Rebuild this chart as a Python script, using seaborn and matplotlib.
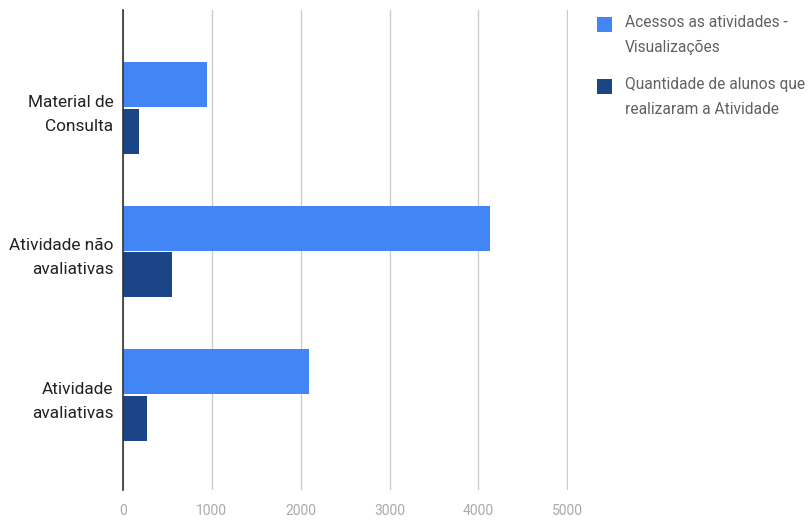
import matplotlib
matplotlib.use("Agg")
import matplotlib.pyplot as plt
import seaborn as sns
import pandas as pd
from matplotlib.patches import Rectangle

categories = ["Material de\nConsulta", "Atividade não\navaliativas", "Atividade\navaliativas"]
series_names = ["Acessos as atividades -\nVisualizações", "Quantidade de alunos que\nrealizaram a Atividade"]
acessos = [945, 4135, 2090]
alunos = [183, 555, 266]
xticks = [0, 1000, 2000, 3000, 4000, 5000]
colors = ["#4285F4", "#1C4587"]

df = pd.DataFrame({
    "cat": categories * 2,
    "serie": [series_names[0]] * 3 + [series_names[1]] * 3,
    "valor": acessos + alunos,
})

sns.set_style("white")
plt.rcParams["font.family"] = ["Roboto", "DejaVu Sans"]

fig = plt.figure(figsize=(8.1, 5.2), dpi=100)
ax = fig.add_axes([123/810, 1-490/520, (568-123)/810, 480/520])

sns.barplot(data=df, y="cat", x="valor", hue="serie", orient="h",
            palette=colors, width=0.65, gap=0.03, ax=ax, legend=False,
            saturation=1, linewidth=0, zorder=3)

ax.set_xlim(0, 5008)
ax.set_ylim(2.662, -0.683)
ax.set_xticks(xticks)
ax.set_xticklabels([str(t) for t in xticks], color="#aaaaaa", fontsize=10)
ax.tick_params(axis="x", length=0, pad=10)
ax.tick_params(axis="y", length=0, pad=7, labelsize=12.4, labelcolor="#222222")
for lab in ax.get_yticklabels():
    lab.set_horizontalalignment("right")
    lab.set_multialignment("right")
    lab.set_linespacing(1.75)
    x, y = lab.get_position()
ax.grid(axis="x", color="#cccccc", linewidth=1, zorder=0)
ax.set_axisbelow(True)
for s in ["top", "right", "bottom"]:
    ax.spines[s].set_visible(False)
ax.spines["left"].set_color("#333333")
ax.spines["left"].set_linewidth(1.2)
ax.spines["left"].set_zorder(4)
ax.set_xlabel("")
ax.set_ylabel("")

# legend drawn manually
legend_tops = [17, 79]
for name, c, top in zip(series_names, colors, legend_tops):
    fig.patches.append(Rectangle((597/810, 1-(top+15)/520), 15/810, 15/520,
                                 transform=fig.transFigure, facecolor=c,
                                 edgecolor="none"))
    fig.text(625/810, 1-(top-2)/520, name, ha="left", va="top",
             fontsize=11.2, color="#616161", linespacing=1.85)

fig.savefig("out.png", dpi=100)
